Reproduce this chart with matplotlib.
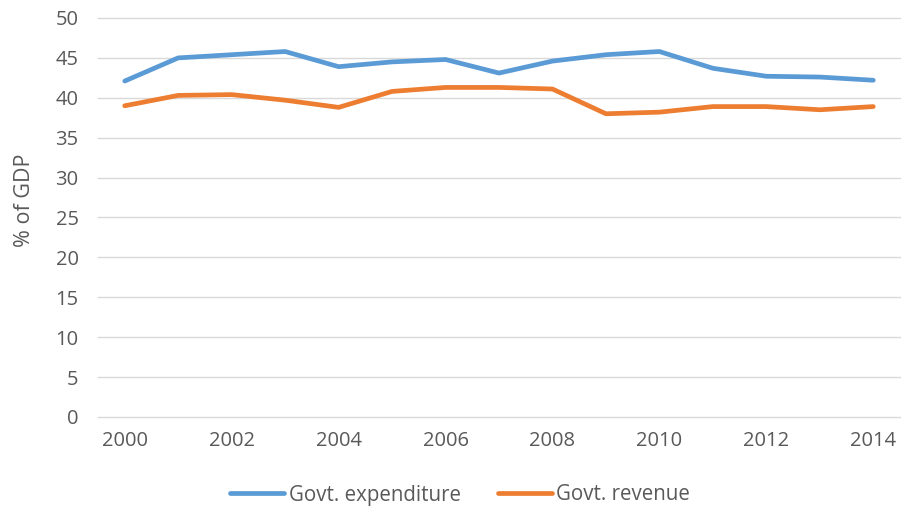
import matplotlib.pyplot as plt

years = list(range(2000, 2015))
expenditure = [42.1, 45.0, 45.4, 45.8, 43.9, 44.5, 44.8, 43.1, 44.6, 45.4, 45.8, 43.7, 42.7, 42.6, 42.2]
revenue = [39.0, 40.3, 40.4, 39.7, 38.8, 40.8, 41.3, 41.3, 41.1, 38.0, 38.2, 38.9, 38.9, 38.5, 38.9]
x_ticks = list(range(2000, 2015, 2))
y_ticks = list(range(0, 51, 5))

plt.rcParams['font.family'] = ['Open Sans', 'DejaVu Sans']
gris = '#595959'

fig = plt.figure(figsize=(9.03, 5.08), dpi=100)
ax = fig.add_axes([98 / 903, 1 - 417 / 508, 802 / 903, 399 / 508])

ax.plot(years, expenditure, color='#5B9BD5', lw=3.4, label='Govt. expenditure', solid_capstyle='round')
ax.plot(years, revenue, color='#ED7D31', lw=3.4, label='Govt. revenue', solid_capstyle='round')

ax.set_xlim(1999.5, 2014.5)
ax.set_ylim(0, 50)
ax.set_xticks(x_ticks)
ax.set_yticks(y_ticks)
ax.tick_params(length=0, labelsize=14.5, labelcolor=gris)
ax.tick_params(axis='x', pad=10)
ax.tick_params(axis='y', pad=14)
ax.grid(axis='y', color='#D9D9D9', lw=1)
for g in ax.yaxis.get_gridlines():
    g.set_clip_on(False)
ax.set_axisbelow(True)
for s in ax.spines.values():
    s.set_visible(False)

# etiqueta del eje y
fig.text(25 / 903, 1 - 200 / 508, '% of GDP', rotation=90, ha='center', va='center',
         fontsize=15.5, color=gris)

ax.legend(loc='center', bbox_to_anchor=(460 / 903, 1 - 495 / 508), bbox_transform=fig.transFigure,
          ncol=2, frameon=False, fontsize=14.8, labelcolor=gris, handlelength=2.65,
          handletextpad=0.2, columnspacing=1.8, borderpad=0, borderaxespad=0)

fig.savefig('out.png', dpi=100)
